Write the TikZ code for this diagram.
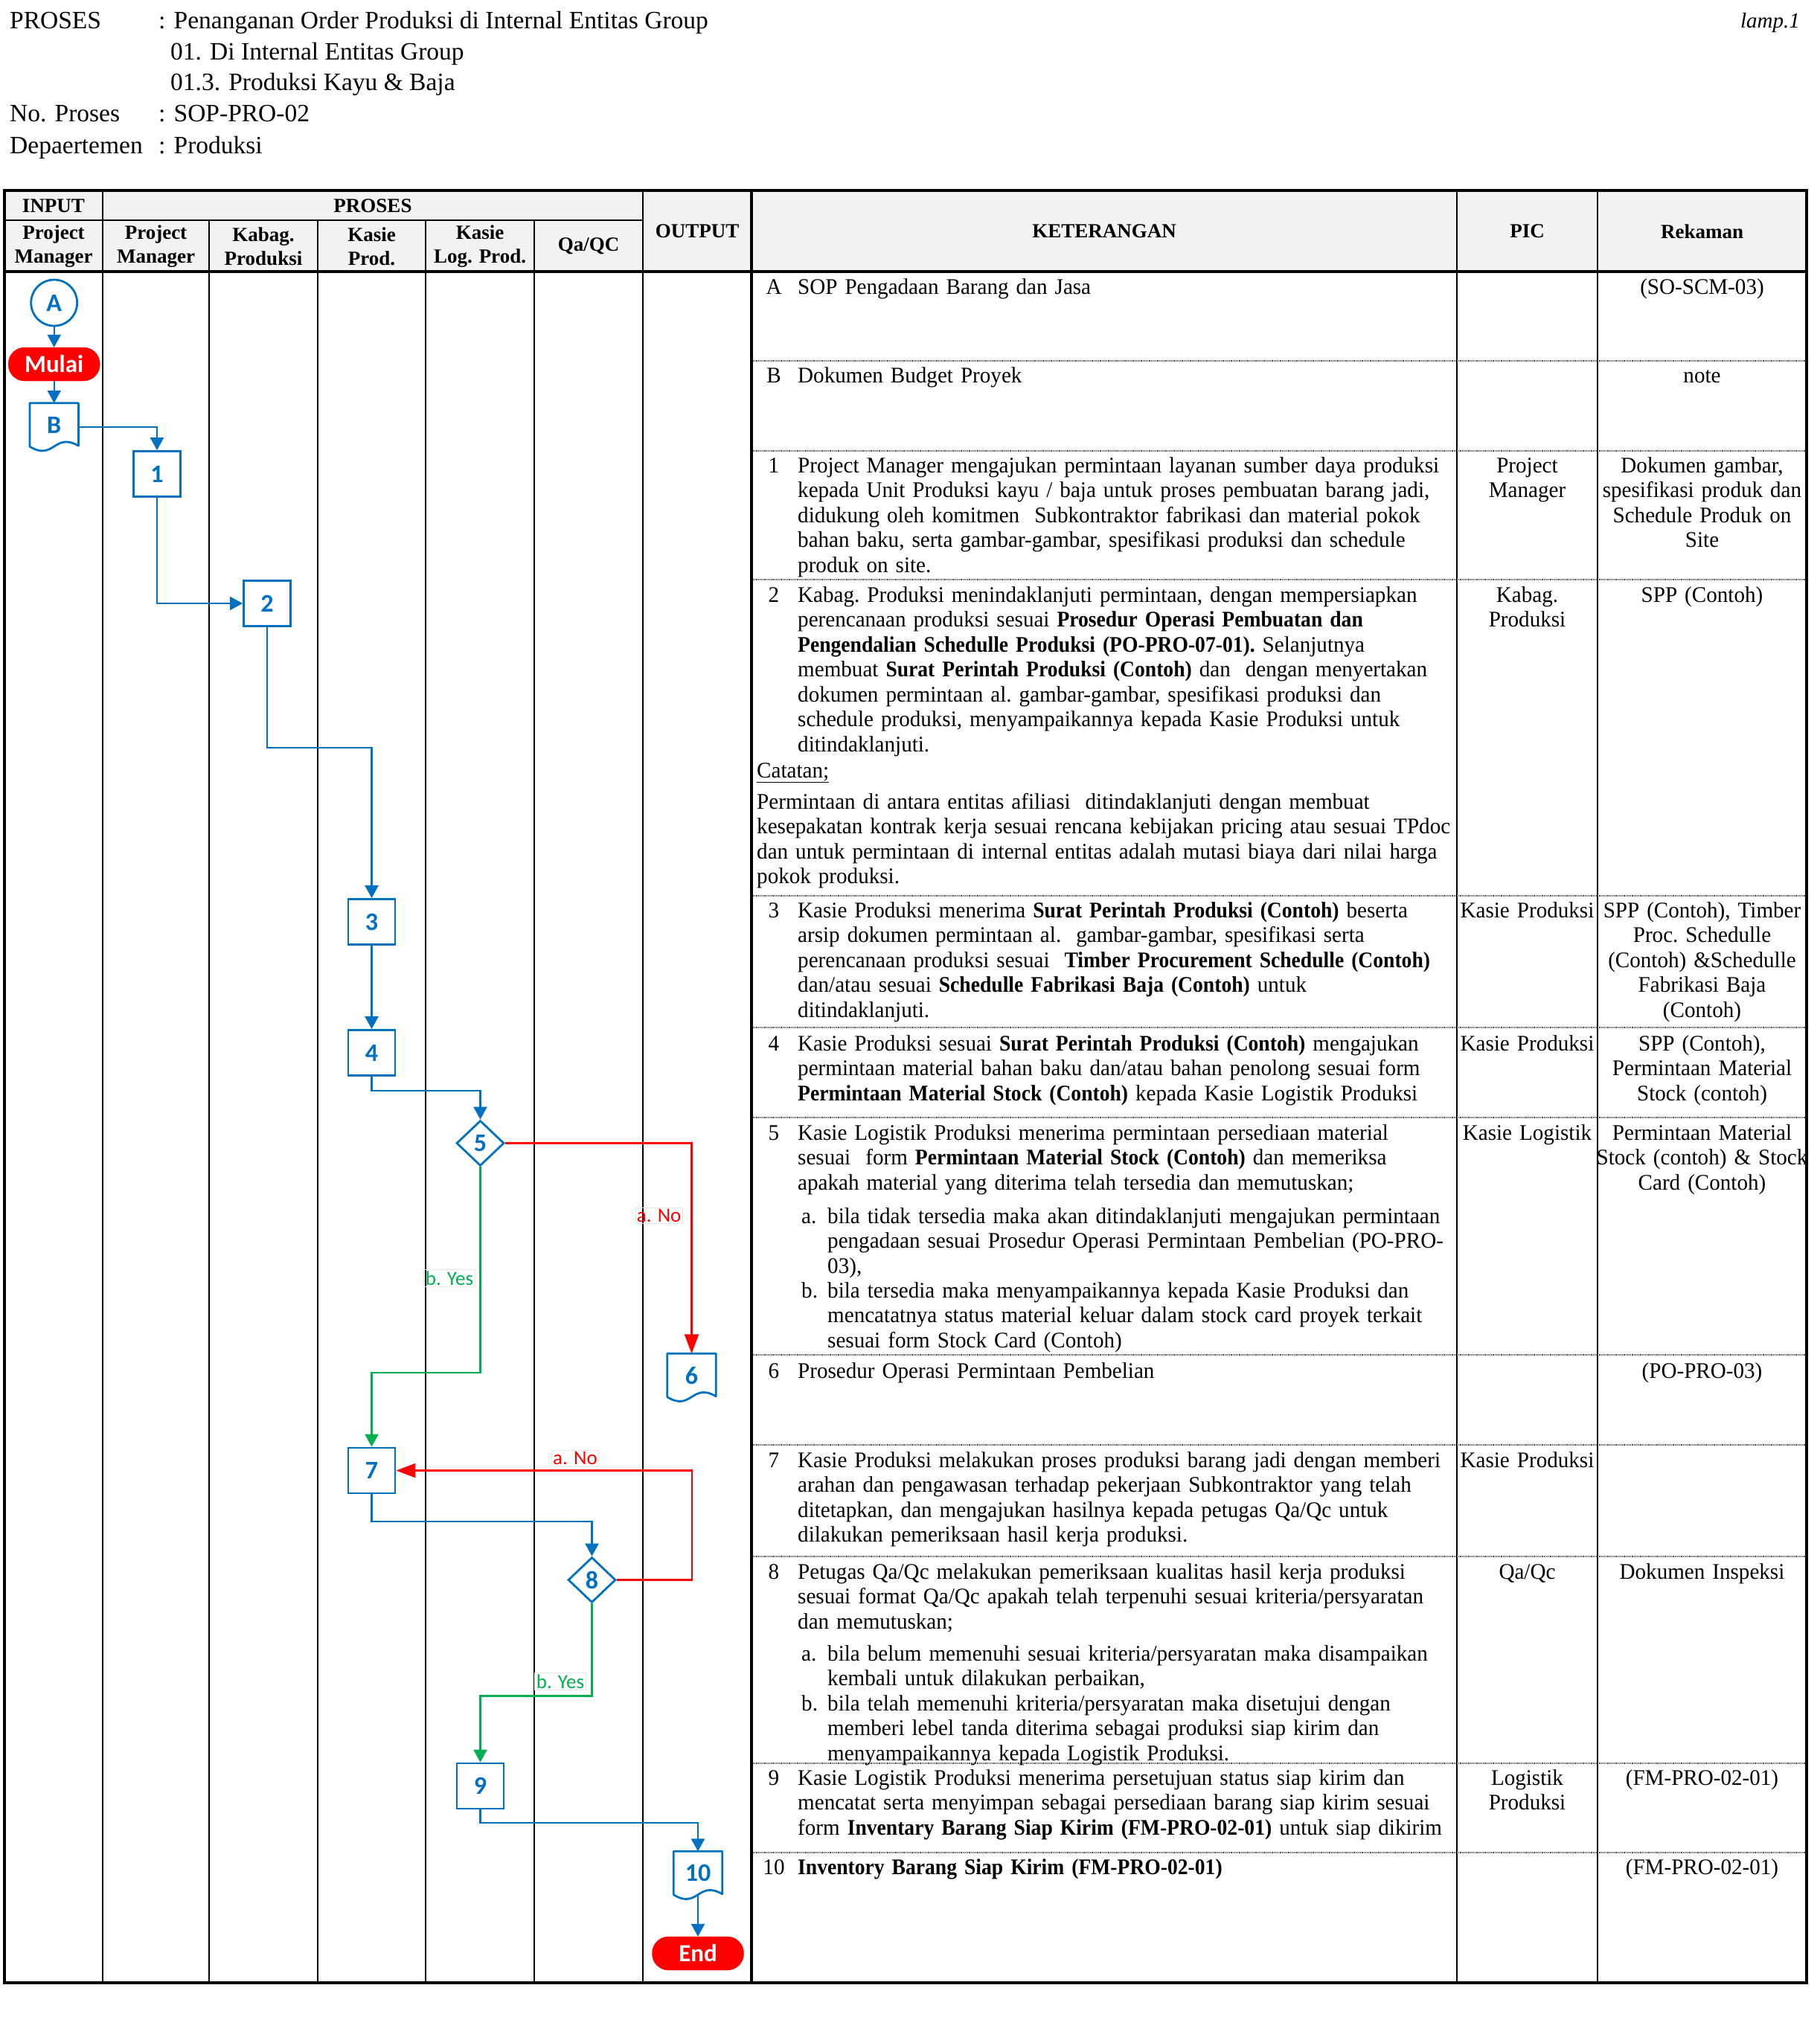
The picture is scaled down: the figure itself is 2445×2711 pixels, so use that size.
\documentclass[tikz,border=0pt]{standalone}
\usepackage{fontspec}
\setmainfont{Liberation Serif}
\newfontfamily\tabfont[FakeStretch=0.97, BoldFeatures={FakeStretch=0.92}]{Liberation Serif}
\newfontfamily\calfont{Carlito}
\usetikzlibrary{shapes.geometric,arrows.meta,calc}
\definecolor{fblue}{HTML}{0070C0}
\definecolor{fgreen}{HTML}{00B050}
\definecolor{fred}{HTML}{FF0000}
\definecolor{hdrgray}{HTML}{F2F2F2}
\hyphenpenalty=10000
\exhyphenpenalty=10000
\newcommand\docoutline[1]{%
  \draw[draw=fblue, line width=2.8pt, line join=round]
    (#1.south west) -- (#1.north west) -- (#1.north east) -- ($(#1.south east)+(0,-1)$)
    .. controls ($(#1.south)+(0,-20)$) and ($(#1.south)+(0,20)$) .. (#1.south west) -- cycle;}
\tikzset{
  lane/.style={line width=2.2pt},
  lanethin/.style={line width=1.1pt},
  rowsep/.style={line width=1.2pt, densely dotted, black!70},
  hd/.style={font=\bfseries\fontsize{27}{32}\selectfont, align=center, inner sep=0pt},
  hdr/.style={anchor=base west, inner sep=0pt, font=\fontsize{33.5}{41.5}\selectfont},
  ket/.style={anchor=base west, inner sep=0pt, text width=1000pt, align=left, font=\tabfont\fontsize{30}{33.5}\selectfont\frenchspacing},
  num/.style={anchor=base, inner sep=0pt, font=\tabfont\fontsize{30}{33.5}\selectfont},
  piccell/.style={anchor=base, inner sep=0pt, text width=186pt, align=center, font=\tabfont\fontsize{30}{33.5}\selectfont\frenchspacing},
  rekcell/.style={anchor=base, inner sep=0pt, text width=290pt, align=center, font=\tabfont\fontsize{30}{33.5}\selectfont\frenchspacing},
  fbox/.style={rectangle, draw=fblue, line width=2.8pt, fill=white, minimum width=63pt, minimum height=61pt, inner sep=0pt, text=fblue, font=\calfont\bfseries\fontsize{34}{34}\selectfont},
  fdia/.style={diamond, draw=fblue, line width=2.8pt, fill=white, minimum width=64pt, minimum height=61pt, inner sep=0pt, text=fblue, font=\calfont\bfseries\fontsize{34}{34}\selectfont},
  fdoc/.style={rectangle, minimum width=65pt, minimum height=58pt, inner sep=0pt, text=fblue, font=\calfont\bfseries\fontsize{34}{34}\selectfont},
  fcirc/.style={circle, draw=fblue, line width=2.8pt, fill=white, minimum size=62pt, inner sep=0pt, text=fblue, font=\calfont\bfseries\fontsize{34}{34}\selectfont},
  fterm/.style={rectangle, rounded corners=22pt, fill=fred, draw=fred, minimum width=123pt, minimum height=45pt, inner sep=0pt, text=white, font=\calfont\bfseries\fontsize{33}{33}\selectfont},
  bconn/.style={draw=fblue, line width=2.4pt, -{Triangle[length=17pt,width=18pt]}},
  gconn/.style={draw=fgreen, line width=2.4pt, -{Triangle[length=17pt,width=18pt]}},
  rconn/.style={draw=fred, line width=2.4pt, -{Triangle[length=26pt,width=19pt]}},
  lbl/.style={draw=black!10, line width=0.8pt, inner sep=2pt, font=\calfont\fontsize{27}{27}\selectfont},
}
\begin{document}
\begin{tikzpicture}[x=1pt,y=-1pt]
\useasboundingbox (0,0) rectangle (2445,2711);

% ---------- title block ----------
\node[hdr] (tp1) at (13,39) {PROSES};
\node[hdr] (tp2) at (213,39) {: Penanganan Order Produksi di Internal Entitas Group};
\node[hdr] (tp3) at (229,81) {01. Di Internal Entitas Group};
\node[hdr] (tp4) at (229,122) {01.3. Produksi Kayu \& Baja};
\node[hdr] (tp5) at (13,164) {No. Proses};
\node[hdr] (tp6) at (213,164) {: SOP-PRO-02};
\node[hdr] (tp7) at (13,206) {Depaertemen};
\node[hdr] (tp8) at (213,206) {: Produksi};
\node[anchor=base east, inner sep=0pt, font=\itshape\fontsize{29}{29}\selectfont] (lamp) at (2419,38) {lamp.1};

% ---------- table frame ----------
\fill[hdrgray] (6,256) rectangle (2428,365);
\draw[lane] (6,296) -- (864,296);
\draw[lane] (138,256) -- (138,2665);
\draw[lane] (281,296) -- (281,2665);
\draw[lane] (427,296) -- (427,2665);
\draw[lanethin] (572,296) -- (572,2665);
\draw[lanethin] (718,296) -- (718,2665);
\draw[lanethin] (864,256) -- (864,2665);
\draw[line width=3.5pt] (1010,256) -- (1010,2665);
\draw[line width=1.4pt] (1958,256) -- (1958,2665);
\draw[line width=1.4pt] (2147,256) -- (2147,2665);
\foreach \yy in {485,606,779,1204,1381,1502,1821,1942,2092,2370,2490}
  \draw[rowsep] (1012,\yy) -- (2426,\yy);
\draw[line width=3.5pt] (6,365) -- (2428,365);
\draw[line width=3.5pt] (6,256) rectangle (2428,2665);

% ---------- header cells ----------
\node[hd] (hInput) at (72,277) {INPUT};
\node[hd] (hProses) at (501,277) {PROSES};
\node[hd] (hPM1) at (72,331) {Project\\Manager};
\node[hd] (hPM2) at (209.5,331) {Project\\Manager};
\node[hd] (hKab) at (354,331) {Kabag.\\Produksi};
\node[hd] (hKP) at (499.5,331) {Kasie\\Prod.};
\node[hd] (hKL) at (645,331) {Kasie\\Log. Prod.};
\node[hd] (hQA) at (791,331) {Qa/QC};
\node[hd] (hOut) at (937,311) {OUTPUT};
\node[hd] (hKet) at (1484,311) {KETERANGAN};
\node[hd] (hPIC) at (2052.5,311) {PIC};
\node[hd] (hRek) at (2287.5,311) {Rekaman};

% ---------- KETERANGAN ----------
\node[num] (kA) at (1040,395) {A};
\node[ket] (tA) at (1072,395) {SOP Pengadaan Barang dan Jasa};
\node[num] (kB) at (1040,514) {B};
\node[ket] (tB) at (1072,514) {Dokumen Budget Proyek};
\node[num] (k1) at (1040,635) {1};
\node[ket] (t1) at (1072,635) {Project Manager mengajukan permintaan layanan sumber daya produksi\\kepada Unit Produksi kayu / baja untuk proses pembuatan barang jadi,\\didukung oleh komitmen\ \ Subkontraktor fabrikasi dan material pokok\\bahan baku, serta gambar-gambar, spesifikasi produksi dan schedule\\produk on site.};
\node[num] (k2) at (1040,809) {2};
\node[ket] (t2) at (1072,809) {Kabag. Produksi menindaklanjuti permintaan, dengan mempersiapkan\\perencanaan produksi sesuai \textbf{Prosedur Operasi Pembuatan dan}\\\textbf{Pengendalian Schedulle Produksi (PO-PRO-07-01).} Selanjutnya\\membuat \textbf{Surat Perintah Produksi (Contoh)} dan\ \ dengan menyertakan\\dokumen permintaan al. gambar-gambar, spesifikasi produksi dan\\schedule produksi, menyampaikannya kepada Kasie Produksi untuk\\ditindaklanjuti.};
\node[ket] (tcat) at (1017,1045) {\underline{Catatan;}};
\node[ket] (tcat2) at (1017,1087) {Permintaan di antara entitas afiliasi\ \ ditindaklanjuti dengan membuat\\kesepakatan kontrak kerja sesuai rencana kebijakan pricing atau sesuai TPdoc\\dan untuk permintaan di internal entitas adalah mutasi biaya dari nilai harga\\pokok produksi.};
\node[num] (k3) at (1040,1233) {3};
\node[ket] (t3) at (1072,1233) {Kasie Produksi menerima \textbf{Surat Perintah Produksi (Contoh)} beserta\\arsip dokumen permintaan al.\ \ gambar-gambar, spesifikasi serta\\perencanaan produksi sesuai\ \ \textbf{Timber Procurement Schedulle (Contoh)}\\dan/atau sesuai \textbf{Schedulle Fabrikasi Baja (Contoh)} untuk\\ditindaklanjuti.};
\node[num] (k4) at (1040,1412) {4};
\node[ket] (t4) at (1072,1412) {Kasie Produksi sesuai \textbf{Surat Perintah Produksi (Contoh)} mengajukan\\permintaan material bahan baku dan/atau bahan penolong sesuai form\\\textbf{Permintaan Material Stock (Contoh)} kepada Kasie Logistik Produksi};
\node[num] (k5) at (1040,1532) {5};
\node[ket] (t5) at (1072,1532) {Kasie Logistik Produksi menerima permintaan persediaan material\\sesuai\ \ form \textbf{Permintaan Material Stock (Contoh)} dan memeriksa\\apakah material yang diterima telah tersedia dan memutuskan;};
\node[ket] (k5a) at (1077,1644) {a.};
\node[ket] (t5a) at (1112,1644) {bila tidak tersedia maka akan ditindaklanjuti mengajukan permintaan\\pengadaan sesuai Prosedur Operasi Permintaan Pembelian (PO-PRO-\\03),};
\node[ket] (k5b) at (1077,1744) {b.};
\node[ket] (t5b) at (1112,1744) {bila tersedia maka menyampaikannya kepada Kasie Produksi dan\\mencatatnya status material keluar dalam stock card proyek terkait\\sesuai form Stock Card (Contoh)};
\node[num] (k6) at (1040,1852) {6};
\node[ket] (t6) at (1072,1852) {Prosedur Operasi Permintaan Pembelian};
\node[num] (k7) at (1040,1972) {7};
\node[ket] (t7) at (1072,1972) {Kasie Produksi melakukan proses produksi barang jadi dengan memberi\\arahan dan pengawasan terhadap pekerjaan Subkontraktor yang telah\\ditetapkan, dan mengajukan hasilnya kepada petugas Qa/Qc untuk\\dilakukan pemeriksaan hasil kerja produksi.};
\node[num] (k8) at (1040,2122) {8};
\node[ket] (t8) at (1072,2122) {Petugas Qa/Qc melakukan pemeriksaan kualitas hasil kerja produksi\\sesuai format Qa/Qc apakah telah terpenuhi sesuai kriteria/persyaratan\\dan memutuskan;};
\node[ket] (k8a) at (1077,2232) {a.};
\node[ket] (t8a) at (1112,2232) {bila belum memenuhi sesuai kriteria/persyaratan maka disampaikan\\kembali untuk dilakukan perbaikan,};
\node[ket] (k8b) at (1077,2299) {b.};
\node[ket] (t8b) at (1112,2299) {bila telah memenuhi kriteria/persyaratan maka disetujui dengan\\memberi lebel tanda diterima sebagai produksi siap kirim dan\\menyampaikannya kepada Logistik Produksi.};
\node[num] (k9) at (1040,2399) {9};
\node[ket] (t9) at (1072,2399) {Kasie Logistik Produksi menerima persetujuan status siap kirim dan\\mencatat serta menyimpan sebagai persediaan barang siap kirim sesuai\\form \textbf{Inventary Barang Siap Kirim (FM-PRO-02-01)} untuk siap dikirim};
\node[num] (k10) at (1040,2519) {10};
\node[ket] (t10) at (1072,2519) {\textbf{Inventory Barang Siap Kirim (FM-PRO-02-01)}};

% ---------- PIC ----------
\node[piccell] (p1) at (2052.5,635) {Project\\Manager};
\node[piccell] (p2) at (2052.5,809) {Kabag.\\Produksi};
\node[piccell] (p3) at (2052.5,1233) {Kasie Produksi};
\node[piccell] (p4) at (2052.5,1412) {Kasie Produksi};
\node[piccell] (p5) at (2052.5,1532) {Kasie Logistik};
\node[piccell] (p7) at (2052.5,1972) {Kasie Produksi};
\node[piccell] (p8) at (2052.5,2122) {Qa/Qc};
\node[piccell] (p9) at (2052.5,2399) {Logistik\\Produksi};

% ---------- Rekaman ----------
\node[rekcell] (rA) at (2287.5,395) {(SO-SCM-03)};
\node[rekcell] (rB) at (2287.5,514) {note};
\node[rekcell] (r1) at (2287.5,635) {Dokumen gambar,\\spesifikasi produk dan\\Schedule Produk on\\Site};
\node[rekcell] (r2) at (2287.5,809) {SPP (Contoh)};
\node[rekcell] (r3) at (2287.5,1233) {SPP (Contoh), Timber\\Proc. Schedulle\\(Contoh) \&Schedulle\\Fabrikasi Baja\\(Contoh)};
\node[rekcell] (r4) at (2287.5,1412) {SPP (Contoh),\\Permintaan Material\\Stock (contoh)};
\node[rekcell] (r5) at (2287.5,1532) {Permintaan Material\\Stock (contoh) \& Stock\\Card (Contoh)};
\node[rekcell] (r6) at (2287.5,1852) {(PO-PRO-03)};
\node[rekcell] (r8) at (2287.5,2122) {Dokumen Inspeksi};
\node[rekcell] (r9) at (2287.5,2399) {(FM-PRO-02-01)};
\node[rekcell] (r10) at (2287.5,2519) {(FM-PRO-02-01)};

% ---------- flowchart ----------
\node[fcirc] (A) at (72.7,407) {A};
\node[fterm] (mulai) at (72.7,489.5) {Mulai};
\node[fdoc] (B) at (72.7,571) {B};
\docoutline{B}
\node[fbox] (n1) at (211,637) {1};
\node[fbox] (n2) at (359,811) {2};
\node[fbox] (n3) at (499.5,1239) {3};
\node[fbox] (n4) at (499.5,1415) {4};
\node[fdia] (d5) at (645.5,1536.5) {5};
\node[fdoc] (n6) at (929.5,1848.5) {6};
\docoutline{n6}
\node[fbox] (n7) at (499.5,1976.5) {7};
\node[fdia] (d8) at (795.5,2123.5) {8};
\node[fbox] (n9) at (645.5,2400.5) {9};
\node[fdoc] (n10) at (938,2517.5) {10};
\docoutline{n10}
\node[fterm] (endn) at (938,2625.5) {End};

\coordinate (y23) at (0,1005);
\coordinate (y45) at (0,1466);
\coordinate (y57) at (0,1845);
\coordinate (y78) at (0,2045);
\coordinate (y89) at (0,2279.5);
\coordinate (y910) at (0,2450);

\draw[bconn] (A.south) -- (mulai.north);
\draw[bconn] (mulai.south) -- (B.north);
\draw[bconn] ($(B.east)+(0,3)$) -| (n1.north);
\draw[bconn] (n1.south) |- (n2.west);
\draw[bconn] (n2.south) -- (n2.south |- y23) -| (n3.north);
\draw[bconn] (n3.south) -- (n4.north);
\draw[bconn] (n4.south) -- (n4.south |- y45) -| (d5.north);
\draw[rconn] (d5.east) -| (n6.north);
\draw[gconn] (d5.south) -- (d5.south |- y57) -| (n7.north);
\draw[bconn] (n7.south) -- (n7.south |- y78) -| (d8.north);
\draw[rconn] (d8.east) -- ++(101,0) |- (n7.east);
\draw[gconn] (d8.south) -- (d8.south |- y89) -| (n9.north);
\draw[bconn] (n9.south) -- (n9.south |- y910) -| (n10.north);
\draw[bconn] (n10.south) -- (endn.north);

\node[lbl, text=fred] (la1) at (885.7,1634) {a. No};
\node[lbl, text=fgreen] (lb1) at (604,1718) {b. Yes};
\node[lbl, text=fred] (la2) at (773,1960) {a. No};
\node[lbl, text=fgreen] (lb2) at (753,2260) {b. Yes};
\end{tikzpicture}
\end{document}
